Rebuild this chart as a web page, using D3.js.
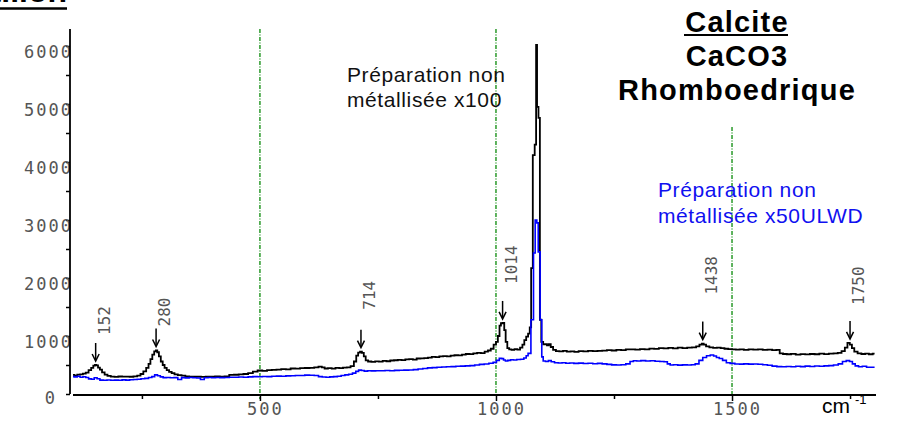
<!DOCTYPE html>
<html>
<head>
<meta charset="utf-8">
<script src="https://cdn.jsdelivr.net/npm/d3@7"></script>
<style>
  body { margin: 0; background: #fff; }
  svg { display: block; }
</style>
</head>
<body>
<div id="chart"></div>
<script>
// Raman spectrum of calcite, two acquisitions: [wavenumber cm-1, intensity]
const spectrumX100 = [
  [104,330],[110,318],[116,335],[122,340],[128,352],[134,370],[140,410],[145,450],[149,488],[152,500],
  [155,492],[159,455],[163,420],[168,372],[174,335],[180,312],[188,300],[196,296],[204,302],[212,298],
  [220,300],[228,297],[236,305],[244,318],[250,345],[256,390],[262,450],[266,520],[270,600],[274,680],
  [278,735],[281,750],[284,720],[288,650],[292,560],[296,500],[300,450],[305,410],[310,380],[316,360],
  [322,340],[330,325],[338,318],[346,305],[354,300],[362,298],[370,300],[380,296],[390,300],[400,298],
  [410,302],[420,300],[430,305],[440,330],[450,332],[460,340],[470,345],[480,360],[490,385],[500,405],
  [510,400],[520,410],[530,415],[540,420],[550,428],[560,425],[570,440],[580,438],[590,445],[600,448],
  [610,452],[620,458],[628,472],[634,460],[640,440],[648,445],[656,438],[664,450],[672,445],[680,455],
  [688,460],[696,480],[702,560],[706,660],[710,715],[714,730],[718,710],[722,650],[726,580],[732,560],
  [740,555],[748,562],[756,558],[764,570],[772,565],[780,578],[788,582],[796,590],[804,585],[812,598],
  [820,600],[828,592],[836,612],[844,615],[852,620],[860,628],[868,640],[876,635],[884,648],[892,652],
  [900,650],[908,660],[916,668],[924,665],[932,678],[940,690],[948,688],[956,700],[964,710],[972,705],
  [980,730],[986,750],[992,780],[998,850],[1002,900],[1006,1000],[1009,1180],[1012,1220],[1016,1225],[1019,1100],
  [1022,900],[1026,790],[1030,770],[1036,760],[1042,775],[1048,765],[1054,800],[1058,850],[1062,930],[1066,990],
  [1070,1040],[1073,1150],[1076,2170],[1080,4120],[1084,4300],[1086,6020],[1088,4950],[1092,4760],[1094,1280],[1098,900],
  [1102,855],[1106,860],[1110,840],[1114,860],[1118,810],[1124,760],[1130,740],[1138,735],[1146,742],[1154,730],
  [1162,735],[1170,728],[1180,740],[1190,735],[1200,745],[1210,738],[1220,742],[1230,748],[1240,755],[1250,750],
  [1260,760],[1270,755],[1280,768],[1290,770],[1300,765],[1310,775],[1320,770],[1330,782],[1340,778],[1350,790],
  [1360,785],[1370,795],[1380,788],[1390,798],[1400,790],[1410,800],[1420,805],[1428,820],[1434,850],[1438,870],
  [1442,850],[1448,820],[1456,805],[1464,795],[1472,800],[1480,790],[1488,780],[1496,775],[1504,770],[1512,765],
  [1520,770],[1530,760],[1540,768],[1550,765],[1560,770],[1570,760],[1580,765],[1590,758],[1598,760],[1604,700],
  [1612,690],[1620,685],[1630,692],[1640,680],[1650,688],[1660,682],[1670,690],[1680,685],[1690,695],[1700,688],
  [1710,695],[1720,700],[1728,710],[1736,740],[1742,800],[1747,880],[1752,850],[1756,790],[1762,730],[1770,700],
  [1778,690],[1786,695],[1794,685],[1802,695]
];

const spectrumX50 = [
  [104,300],[110,295],[116,305],[122,290],[128,298],[134,285],[140,260],[146,255],[152,280],[158,262],
  [164,240],[172,238],[180,242],[188,236],[196,240],[204,238],[212,244],[220,240],[228,246],[236,250],
  [244,255],[252,262],[260,270],[268,285],[274,300],[280,330],[286,315],[292,295],[298,282],[306,285],
  [314,280],[322,282],[330,250],[338,282],[346,278],[354,284],[362,280],[370,276],[378,250],[386,280],
  [394,285],[402,280],[410,284],[420,282],[430,285],[440,290],[450,288],[460,292],[470,290],[480,296],
  [490,300],[500,298],[510,302],[520,300],[530,305],[540,308],[550,306],[560,312],[570,315],[580,318],
  [590,320],[600,325],[610,322],[620,318],[628,300],[636,292],[644,290],[652,295],[660,300],[668,305],
  [676,320],[684,330],[692,340],[700,360],[706,390],[712,412],[718,405],[724,395],[732,400],[740,398],
  [750,402],[760,400],[770,405],[780,402],[790,408],[800,410],[810,412],[820,415],[830,420],[840,430],
  [850,440],[860,450],[870,455],[880,462],[890,465],[900,470],[910,472],[920,478],[930,480],[940,485],
  [950,490],[960,500],[970,510],[980,518],[990,530],[998,545],[1004,580],[1010,615],[1014,610],[1018,585],
  [1022,570],[1028,580],[1034,590],[1040,585],[1048,595],[1056,600],[1062,620],[1066,660],[1070,700],[1078,1280],
  [1081,2430],[1085,3000],[1088,2950],[1091,2450],[1096,1280],[1098,640],[1102,570],[1108,560],[1114,575],[1120,555],
  [1128,540],[1136,535],[1144,540],[1152,530],[1160,535],[1170,528],[1180,532],[1190,525],[1200,530],[1210,522],
  [1220,528],[1230,520],[1240,510],[1250,502],[1260,500],[1270,505],[1280,520],[1288,560],[1294,574],[1302,570],
  [1312,575],[1322,568],[1332,572],[1342,565],[1352,560],[1360,555],[1366,520],[1372,500],[1380,505],[1390,498],
  [1400,502],[1410,500],[1418,505],[1426,520],[1434,580],[1442,630],[1450,660],[1458,672],[1464,655],[1470,630],
  [1476,612],[1484,580],[1492,540],[1500,528],[1512,518],[1520,515],[1530,520],[1540,515],[1550,518],[1560,512],
  [1570,505],[1580,495],[1590,480],[1600,472],[1610,470],[1620,475],[1630,470],[1640,478],[1650,472],[1660,480],
  [1670,475],[1680,482],[1690,478],[1700,485],[1710,490],[1720,500],[1730,520],[1738,560],[1746,575],[1752,560],
  [1758,520],[1764,485],[1772,470],[1780,478],[1790,462],[1802,460]
];

// Labelled band positions (cm-1) and the black-curve height they point at
const peakBands = [152, 280, 714, 1014, 1438, 1750];
const peakHeights = [500, 750, 730, 1225, 870, 880];

const guideBands = [500, 1000, 1500];
const yTicks = d3.range(0, 6001, 500);
const xTicks = [250, 500, 750, 1000, 1250, 1500, 1750];

const titleLines = ['Calcite', 'CaCO3', 'Rhomboedrique'];
const noteX100 = ['Préparation non', 'métallisée x100'];
const noteX50 = ['Préparation non', 'métallisée x50ULWD'];

const width = 903, height = 422;
const svg = d3.select('#chart').append('svg')
    .attr('width', width)
    .attr('height', height)
    .style('background', '#fff');

const x = d3.scaleLinear().domain([104, 1805]).range([73, 876]);
const y = d3.scaleLinear().domain([0, 6000]).range([394, 46]);

const axisFont = '"DejaVu Sans Mono", monospace';
const textFont = '"Liberation Sans", Arial, sans-serif';

// page heading, mostly above the top edge
svg.append('text')
    .attr('x', 67).attr('y', 2)
    .attr('text-anchor', 'end')
    .attr('font-family', textFont)
    .attr('font-size', 32)
    .attr('font-weight', 'bold')
    .text('Échantillon');
svg.append('line')
    .attr('x1', 0).attr('x2', 67)
    .attr('y1', 8.5).attr('y2', 8.5)
    .attr('stroke', '#000').attr('stroke-width', 2.5);

// green dash-dot guides
svg.selectAll('.guide')
    .data(guideBands)
    .enter()
    .append('line')
    .attr('class', 'guide')
    .attr('x1', d => x(d)).attr('x2', d => x(d))
    .attr('y1', d => d === 1500 ? 127 : 29)
    .attr('y2', d => d === 500 ? 399 : 395)
    .attr('stroke', '#0a8a0a')
    .attr('stroke-width', 1.3)
    .attr('stroke-dasharray', '4,1.5,1,1.5');

// y axis
const yAxis = d3.axisLeft(y)
    .tickValues(yTicks)
    .tickSize(4)
    .tickSizeOuter(0)
    .tickFormat(d => d % 1000 === 0 ? d : '');
const gy = svg.append('g')
    .attr('transform', 'translate(70,0)')
    .call(yAxis);
gy.select('.domain').remove();
gy.selectAll('.tick line').attr('stroke', '#000').attr('stroke-width', 1.5);
gy.selectAll('.tick text')
    .attr('font-family', axisFont)
    .attr('font-size', 17)
    .attr('letter-spacing', 2)
    .attr('fill', '#555')
    .attr('x', d => d === 0 ? -13 : 3)
    .attr('y', d => d === 0 ? 4 : 6);
gy.append('line')
    .attr('x1', 0).attr('x2', 0)
    .attr('y1', y(0)).attr('y2', 29)
    .attr('stroke', '#000').attr('stroke-width', 1.8);

// x axis
const xAxis = d3.axisBottom(x)
    .tickValues(xTicks)
    .tickSize(4)
    .tickSizeOuter(0)
    .tickFormat(d => d % 500 === 0 ? d : '');
const gx = svg.append('g')
    .attr('transform', 'translate(0,395)')
    .call(xAxis);
gx.select('.domain').remove();
gx.selectAll('.tick line')
    .attr('stroke', '#000').attr('stroke-width', 1.5)
    .attr('y2', d => d % 500 === 0 ? 6 : 4);
gx.selectAll('.tick text')
    .attr('font-family', axisFont)
    .attr('font-size', 17)
    .attr('letter-spacing', 2)
    .attr('fill', '#555')
    .attr('dx', 5)
    .attr('y', 8);
gx.append('line')
    .attr('x1', 73).attr('x2', 876)
    .attr('y1', 0).attr('y2', 0)
    .attr('stroke', '#000').attr('stroke-width', 1.8);

svg.append('text')
    .attr('x', 822).attr('y', 413)
    .attr('font-family', textFont)
    .attr('font-size', 21)
    .text('cm');
svg.append('text')
    .attr('x', 855).attr('y', 404)
    .attr('font-family', textFont)
    .attr('font-size', 13)
    .text('-1');

// spectra, drawn as stepped traces like the raw detector output
const line = d3.line()
    .x(d => x(d[0]))
    .y(d => y(d[1]))
    .curve(d3.curveStep);

svg.append('path')
    .datum(spectrumX100)
    .attr('d', line)
    .attr('fill', 'none')
    .attr('stroke', '#000')
    .attr('stroke-width', 1.8);

svg.append('path')
    .datum(spectrumX50)
    .attr('d', line)
    .attr('fill', 'none')
    .attr('stroke', '#0000ff')
    .attr('stroke-width', 1.6);

// band arrows and rotated labels
const labelLift = [6, 0, 18, 15, 25, 14];
const peaks = svg.selectAll('.peak')
    .data(peakBands.map((b, i) => ({ band: b, value: peakHeights[i], lift: labelLift[i] })))
    .enter()
    .append('g')
    .attr('class', 'peak');

peaks.append('line')
    .attr('x1', d => x(d.band)).attr('x2', d => x(d.band))
    .attr('y1', d => y(d.value) - 22).attr('y2', d => y(d.value) - 5)
    .attr('stroke', '#000').attr('stroke-width', 1.5);
peaks.append('path')
    .attr('d', d => {
        const px = x(d.band), tip = y(d.value) - 4;
        return `M${px - 3.5},${tip - 7}L${px},${tip}L${px + 3.5},${tip - 7}`;
    })
    .attr('fill', 'none')
    .attr('stroke', '#000').attr('stroke-width', 1.5);
peaks.append('text')
    .attr('transform', d => {
        const tx = x(d.band) + 14, ty = y(d.value) - 24 - d.lift;
        return `translate(${tx},${ty}) rotate(-90)`;
    })
    .attr('font-family', axisFont)
    .attr('font-size', 16)
    .attr('fill', '#555')
    .text(d => d.band);

// mineral title
const title = svg.append('text')
    .attr('font-family', textFont)
    .attr('font-size', 29)
    .attr('font-weight', 'bold')
    .attr('letter-spacing', 1.2)
    .attr('text-anchor', 'middle');
titleLines.forEach((t, i) => {
    title.append('tspan')
        .attr('x', 737)
        .attr('y', 32 + i * 34)
        .text(t);
});
svg.append('line')
    .attr('x1', 684).attr('x2', 788)
    .attr('y1', 35).attr('y2', 35)
    .attr('stroke', '#000').attr('stroke-width', 2);

// acquisition notes
const note1 = svg.append('text')
    .attr('font-family', textFont)
    .attr('font-size', 21)
    .attr('letter-spacing', 0.6)
    .attr('fill', '#111');
noteX100.forEach((t, i) => {
    note1.append('tspan').attr('x', 347).attr('y', 82 + i * 25).text(t);
});

const note2 = svg.append('text')
    .attr('font-family', textFont)
    .attr('font-size', 21)
    .attr('letter-spacing', 0.6)
    .attr('fill', '#1010f0');
noteX50.forEach((t, i) => {
    note2.append('tspan').attr('x', 658).attr('y', 197 + i * 26).text(t);
});
</script>
</body>
</html>
